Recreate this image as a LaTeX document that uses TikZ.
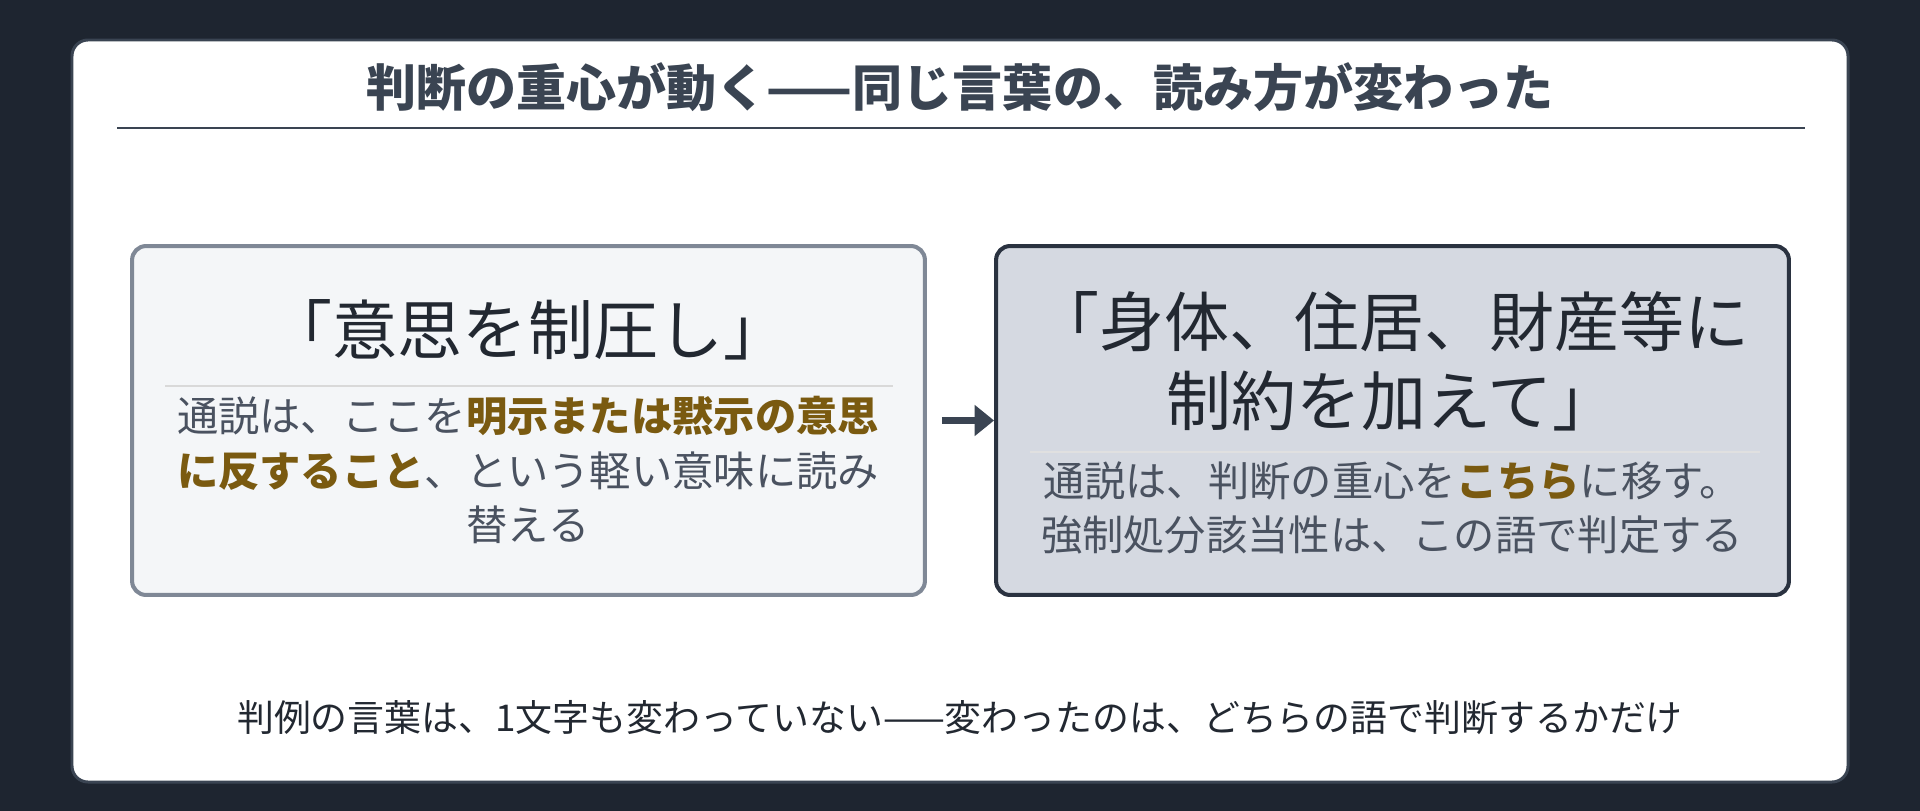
\documentclass[tikz,border=0pt]{standalone}
\usepackage{fontspec}
\setmainfont{Noto Sans CJK JP}
\usetikzlibrary{positioning}
\usetikzlibrary{arrows.meta}
\definecolor{bgdark}{HTML}{1E2530}
\definecolor{slate}{HTML}{3A4452}
\definecolor{ink}{HTML}{222831}
\definecolor{bodygrey}{HTML}{4A5260}
\definecolor{accent}{HTML}{7A5A10}
\definecolor{leftfill}{HTML}{F4F6F8}
\definecolor{leftline}{HTML}{7F8896}
\definecolor{rightfill}{HTML}{D5D9E1}
\definecolor{rightline}{HTML}{2A3240}
\newcommand{\hl}[1]{\textbf{\textcolor{accent}{#1}}}
\tikzset{panel/.style={rectangle,rounded corners=0.28cm,line width=2.3pt,
minimum width=15.86cm,minimum height=6.98cm}}
\tikzset{headline/.style={font=\fontsize{37pt}{45pt}\selectfont,text=ink,align=center}}
\tikzset{bodytext/.style={font=\fontsize{23.5pt}{31pt}\selectfont,text=bodygrey,align=center}}
\begin{document}
\begin{tikzpicture}[x=0.02cm,y=-0.02cm]
        \fill[bgdark] (0,0) rectangle (1920,811);
        \draw[slate,line width=1.7pt,fill=white,rounded corners=0.32cm] (72,40) rectangle (1848,782);

        \node[font=\bfseries\fontsize{28.5pt}{34pt}\selectfont,text=slate] (title) at (960,87) {判断の重心が動く——同じ言葉の、読み方が変わった};
        \draw[slate,line width=1.1pt] (117,128) -- (1805,128);

        \node[panel,draw=leftline,fill=leftfill] (boxL) at (528.5,420.5) {};
        \node[panel,draw=rightline,fill=rightfill] (boxR) at (1392.5,420.5) {};

        \node[headline] (headL) at (528,330) {「意思を制圧し」};
        \draw[black!15,line width=0.7pt] (165,386) -- (893,386);
        \node[bodytext] (bodyL) at (528,470) {通説は、ここを\hl{明示または黙示の意思}\\\hl{に反すること}、という軽い意味に読み\\替える};

        \node[headline] (headR) at (1392,361) {「身体、住居、財産等に\\制約を加えて」};
        \draw[black!12,line width=0.7pt] (1030,452) -- (1760,452);
        \node[bodytext] (bodyR) at (1392,508) {通説は、判断の重心を\hl{こちら}に移す。\\強制処分該当性は、この語で判定する};

        \draw[slate,line width=4.5pt,-{Triangle[length=11pt,width=17pt]},shorten <=0.3cm] (boxL.east) -- (boxR.west);

        \node[font=\fontsize{21pt}{26pt}\selectfont,text=ink] (foot) at (960,718) {判例の言葉は、1文字も変わっていない——変わったのは、どちらの語で判断するかだけ};
\end{tikzpicture}
\end{document}
